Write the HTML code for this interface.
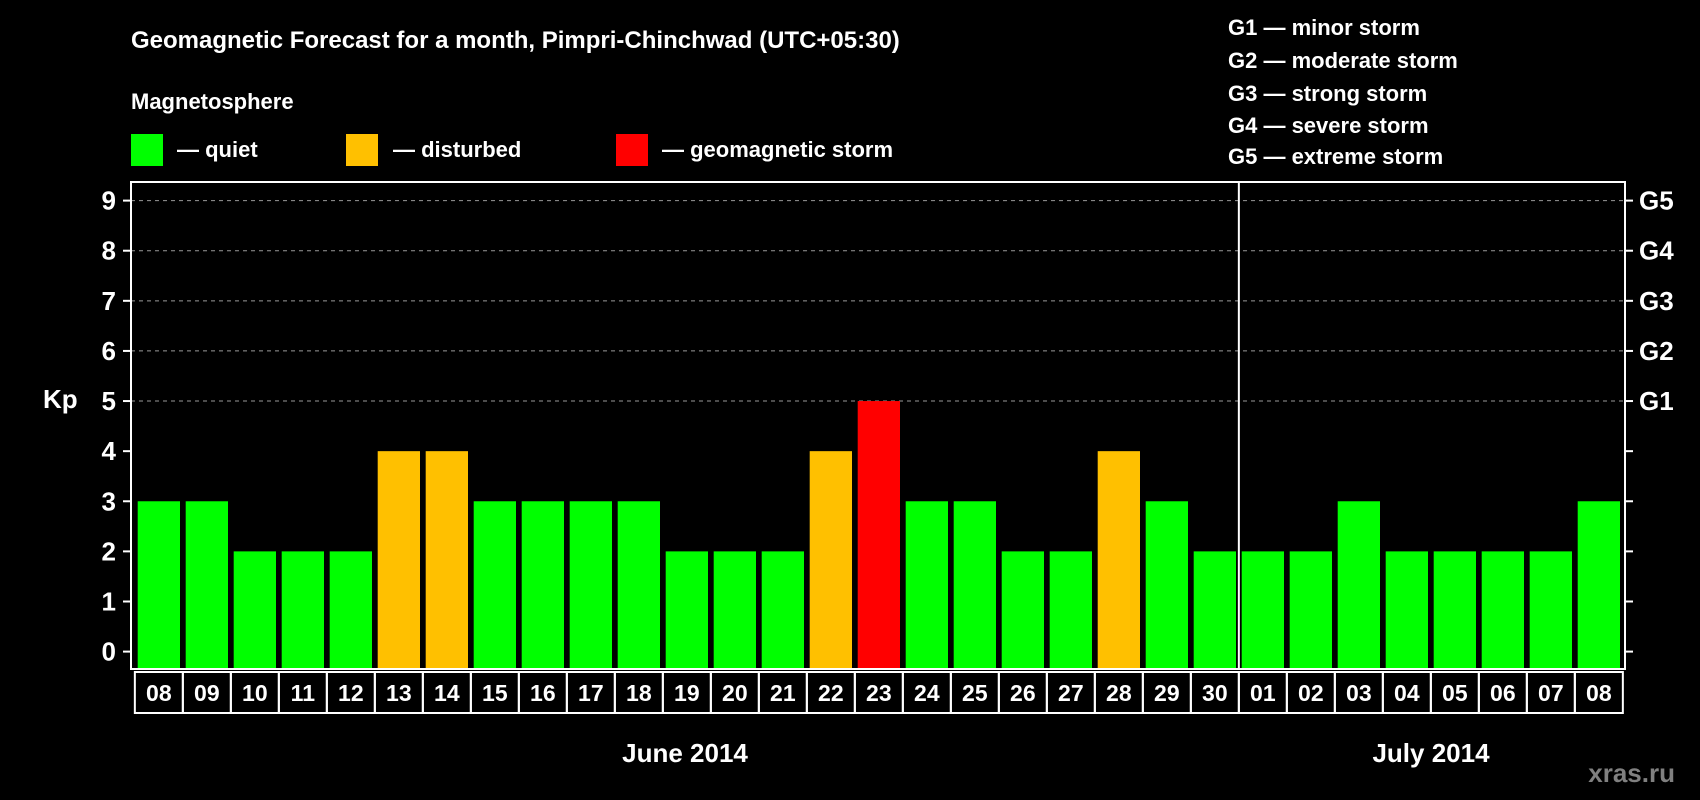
<!DOCTYPE html>
<html><head><meta charset="utf-8"><style>
html,body{margin:0;padding:0;background:#000;}
svg{display:block;font-family:"Liberation Sans",Arial,sans-serif;font-weight:bold;}
</style></head><body>
<svg id="chart" width="1700" height="800" viewBox="0 0 1700 800">
<rect x="0" y="0" width="1700" height="800" fill="#000"/>
<text x="131" y="48" fill="#fff" font-size="24">Geomagnetic Forecast for a month, Pimpri-Chinchwad (UTC+05:30)</text>
<text x="131" y="109" fill="#fff" font-size="22">Magnetosphere</text>
<g><rect x="131" y="134" width="32" height="32" fill="#00ff00"/><text x="177" y="157" fill="#fff" font-size="22">— quiet</text></g>
<g><rect x="346" y="134" width="32" height="32" fill="#ffc000"/><text x="393" y="157" fill="#fff" font-size="22">— disturbed</text></g>
<g><rect x="616" y="134" width="32" height="32" fill="#ff0000"/><text x="662" y="157" fill="#fff" font-size="22">— geomagnetic storm</text></g>
<g fill="#fff" font-size="22">
<text x="1228" y="35">G1 — minor storm</text>
<text x="1228" y="68">G2 — moderate storm</text>
<text x="1228" y="101">G3 — strong storm</text>
<text x="1228" y="133">G4 — severe storm</text>
<text x="1228" y="164">G5 — extreme storm</text>
</g>
<text x="43" y="408" fill="#fff" font-size="26">Kp</text>
<text x="685" y="762" fill="#fff" font-size="26" text-anchor="middle">June 2014</text>
<text x="1431" y="762" fill="#fff" font-size="26" text-anchor="middle">July 2014</text>
<text x="1675" y="782" fill="#808080" font-size="26" text-anchor="end">xras.ru</text>
<g id="plot"></g>
</svg>
<script>
const days = ["08","09","10","11","12","13","14","15","16","17","18","19","20","21","22","23","24","25","26","27","28","29","30","01","02","03","04","05","06","07","08"];
const kpValues = [3,3,2,2,2,4,4,3,3,3,3,2,2,2,4,5,3,3,2,2,4,3,2,2,2,3,2,2,2,2,3];
const yTicks = [0,1,2,3,4,5,6,7,8,9];
const gLabels = ["G1","G2","G3","G4","G5"];
const gLevels = [5,6,7,8,9];
const monthBreakIndex = 23;

const NS="http://www.w3.org/2000/svg";
const g=document.getElementById('plot');
const L=131,R=1625,T=182,B=669;
const y0=651.6, yUnit=(651.6-200.6)/9;
const step=48, first=137.7+21.15, bw=42.3;
const yS=v=>y0-v*yUnit;
const xS=i=>first+i*step;
function mk(tag,attrs){const e=document.createElementNS(NS,tag);for(const k in attrs)e.setAttribute(k,attrs[k]);g.appendChild(e);return e;}
// grid
gLevels.forEach((v,i)=>{
 const l=mk('line',{x1:L,x2:R,y1:yS(v),y2:yS(v),stroke:'#999','stroke-dasharray':'4,4','stroke-width':1});
 
 
});
// bars
kpValues.forEach((v,i)=>{
 const c=v>=5?'#ff0000':(v>=4?'#ffc000':'#00ff00');
 const r=mk('rect',{x:xS(i)-bw/2,y:yS(v),width:bw,height:B-yS(v),fill:c});
 
 
});
// frame
const fr=mk('rect',{x:L,y:T,width:R-L,height:B-T,fill:'none',stroke:'#fff','stroke-width':2});


const bx=xS(monthBreakIndex)-step/2;
const mb=mk('line',{x1:bx,x2:bx,y1:T,y2:B,stroke:'#fff','stroke-width':2});


// y ticks
yTicks.forEach(v=>{
 mk('line',{x1:L-8,x2:L,y1:yS(v),y2:yS(v),stroke:'#fff','stroke-width':2});
 mk('line',{x1:R,x2:R+8,y1:yS(v),y2:yS(v),stroke:'#fff','stroke-width':2});
 const t=mk('text',{x:116,y:yS(v)+9,fill:'#fff','font-size':26,'text-anchor':'end'});
 t.textContent=v;
 
 
});
gLabels.forEach((s,i)=>{
 const t=mk('text',{x:1639,y:yS(gLevels[i])+9,fill:'#fff','font-size':26});
 t.textContent=s;
 
 
});
// day cells
days.forEach((d,i)=>{
 const c=mk('rect',{x:xS(i)-step/2,y:672,width:step,height:41,fill:'none',stroke:'#fff','stroke-width':2});
 
 
 const t=mk('text',{x:xS(i),y:701,fill:'#fff','font-size':23,'text-anchor':'middle'});
 t.textContent=d;
 
 
});
</script>
</body></html>
